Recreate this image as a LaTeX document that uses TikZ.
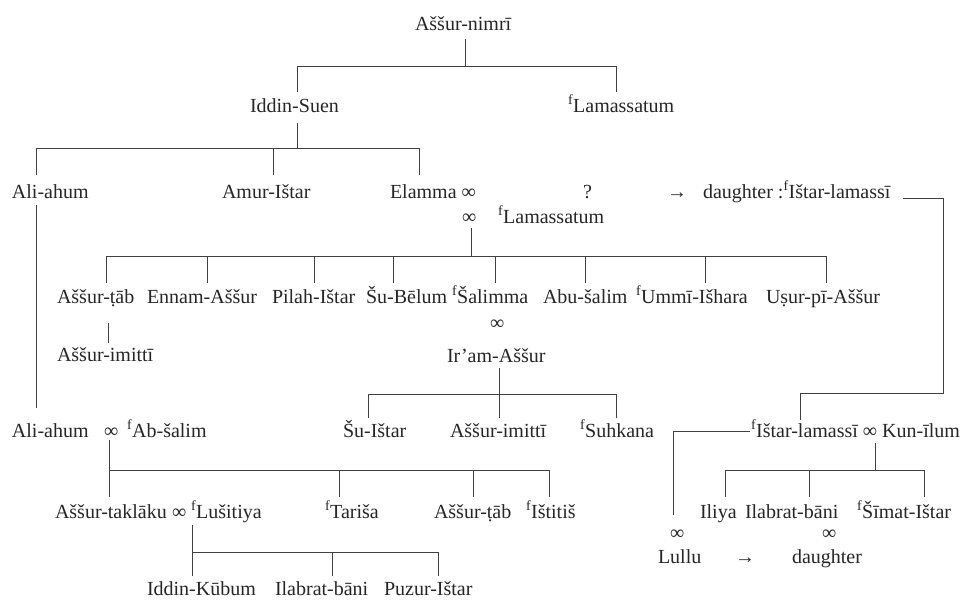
\documentclass[tikz,border=0pt]{standalone}
\usepackage{fontspec}
\setmainfont{Liberation Serif}
\newcommand\femsup{\textsuperscript{f}}
\begin{document}
\begin{tikzpicture}[x=1pt,y=-1pt,
  every node/.style={inner sep=0pt, outer sep=0pt, anchor=base west, font=\fontsize{20}{24}\selectfont, text=black!85},
  ln/.style={draw=black!75, line width=1pt}]
\useasboundingbox (0,0) rectangle (966,600);
\fill[white] (0,0) rectangle (966,600);
% ---------- names ----------
\node (nimri) at (415,30) {Aššur-nimrī};
\node (iddinsuen) at (250,112) {Iddin-Suen};
\node (lam1) at (568,112) {\femsup Lamassatum};
\node (aliahum) at (12,198) {Ali-ahum};
\node (amur) at (222,198) {Amur-Ištar};
\node (elamma) at (390,198) {Elamma ∞};
\node (qm) at (583,198) {?};
\node (arr1) at (667,198) {→};
\node (dtr1) at (703,198) {daughter :\femsup Ištar-lamassī};
\node (inf2) at (462,223) {∞};
\node (lam2) at (498,223) {\femsup Lamassatum};
\node (tab1) at (57,303) {Aššur-ṭāb};
\node (ennam) at (147,303) {Ennam-Aššur};
\node (pilah) at (272,303) {Pilah-Ištar};
\node (subelum) at (366,303) {Šu-Bēlum};
\node (salimma) at (452,303) {\femsup Šalimma};
\node (abusalim) at (543,303) {Abu-šalim};
\node (ummi) at (636,303) {\femsup Ummī-Išhara};
\node (usur) at (766,303) {Uṣur-pī-Aššur};
\node (imitti1) at (57,361) {Aššur-imittī};
\node (inf3) at (490,329) {∞};
\node (iram) at (447,362) {Ir’am-Aššur};
\node (aliahum2) at (12,437) {Ali-ahum};
\node (inf4) at (104,437) {∞};
\node (absalim) at (127,437) {\femsup Ab-šalim};
\node (suistar) at (343,437) {Šu-Ištar};
\node (imitti2) at (450,437) {Aššur-imittī};
\node (suhkana) at (580,437) {\femsup Suhkana};
\node (istarl) at (751,437) {\femsup Ištar-lamassī ∞ Kun-īlum};
\node (taklaku) at (55,518) {Aššur-taklāku};
\node (inf5) at (172,518) {∞};
\node (lusitiya) at (191,518) {\femsup Lušitiya};
\node (tarisa) at (325,518) {\femsup Tariša};
\node (tab2) at (434,518) {Aššur-ṭāb};
\node (istitis) at (526,518) {\femsup Ištitiš};
\node (iliya) at (700,518) {Iliya};
\node (ilabrat1) at (745,518) {Ilabrat-bāni};
\node (simat) at (857,518) {\femsup Šīmat-Ištar};
\node (inf6) at (670,539) {∞};
\node (inf7) at (822,539) {∞};
\node (lullu) at (658,563) {Lullu};
\node (arr2) at (735,563) {→};
\node (dtr2) at (792,563) {daughter};
\node (kubum) at (147,595) {Iddin-Kūbum};
\node (ilabrat2) at (275,595) {Ilabrat-bāni};
\node (puzur) at (384,595) {Puzur-Ištar};
% ---------- connectors ----------
% Aššur-nimrī
\coordinate (n0) at (465,39); \coordinate (j0) at (465,66);
\coordinate (j0l) at (297,66); \coordinate (j0r) at (616,66);
\coordinate (c0l) at (297,92); \coordinate (c0r) at (616,92);
\draw[ln] (n0) -- (j0);
\draw[ln] (c0l) -- (j0l) -- (j0r) -- (c0r);
% Iddin-Suen
\coordinate (s1) at (297,123); \coordinate (b1) at (297,148);
\coordinate (b1l) at (36,148); \coordinate (b1m) at (273,148); \coordinate (b1r) at (419,148);
\coordinate (e1a) at (36,175); \coordinate (e1b) at (273,175); \coordinate (e1c) at (419,175);
\draw[ln] (s1) -- (b1);
\draw[ln] (e1a) -- (b1l) -- (b1r) -- (e1c);
\draw[ln] (b1m) -- (e1b);
% Ali-ahum identity line
\coordinate (al1) at (36,205); \coordinate (al2) at (36,408);
\draw[ln] (al1) -- (al2);
% Elamma + Lamassatum
\coordinate (s2) at (471,228); \coordinate (b2) at (471,256);
\draw[ln] (s2) -- (b2);
\foreach \x [count=\i] in {106,207,314,393,495,585,705,826} {
  \coordinate (t\i) at (\x,256); \coordinate (u\i) at (\x,283);
  \draw[ln] (t\i) -- (u\i);
}
\draw[ln] (t1) -- (t8);
% Aššur-ṭāb -> Aššur-imittī
\coordinate (s3) at (108,323); \coordinate (e3) at (108,343);
\draw[ln] (s3) -- (e3);
% Ir'am-Aššur
\coordinate (s4) at (499,368); \coordinate (b4) at (499,394);
\draw[ln] (s4) -- (b4);
\foreach \x [count=\i] in {368,499,616} {
  \coordinate (v\i) at (\x,394); \coordinate (w\i) at (\x,418);
  \draw[ln] (v\i) -- (w\i);
}
\draw[ln] (v1) -- (v3);
% daughter : Ištar-lamassī link
\coordinate (d1) at (903,198); \coordinate (d2) at (943,198);
\coordinate (d3) at (943,393); \coordinate (d4) at (800,393); \coordinate (d5) at (800,420);
\draw[ln] (d1) -- (d2) -- (d3) -- (d4) -- (d5);
% Ištar-lamassī -> Lullu
\coordinate (l1) at (750,431); \coordinate (l2) at (673,431); \coordinate (l3) at (673,515);
\draw[ln] (l1) -- (l2) -- (l3);
% Kun-īlum children
\coordinate (s5) at (875,443); \coordinate (b5) at (875,470);
\draw[ln] (s5) -- (b5);
\foreach \x [count=\i] in {725,809,924} {
  \coordinate (k\i) at (\x,470); \coordinate (m\i) at (\x,497);
  \draw[ln] (k\i) -- (m\i);
}
\draw[ln] (k1) -- (k3);
% Ali-ahum + Ab-šalim children
\coordinate (s6) at (109,440); \coordinate (e6) at (109,497);
\draw[ln] (s6) -- (e6);
\foreach \x [count=\i] in {109,339,473,549} {
  \coordinate (p\i) at (\x,470); \coordinate (q\i) at (\x,497);
  \draw[ln] (p\i) -- (q\i);
}
\draw[ln] (p1) -- (p4);
% Aššur-taklāku + Lušitiya children
\coordinate (s7) at (192,525); \coordinate (e7) at (192,576);
\draw[ln] (s7) -- (e7);
\foreach \x [count=\i] in {192,332,438} {
  \coordinate (r\i) at (\x,552); \coordinate (z\i) at (\x,576);
  \draw[ln] (r\i) -- (z\i);
}
\draw[ln] (r1) -- (r3);
\end{tikzpicture}
\end{document}
